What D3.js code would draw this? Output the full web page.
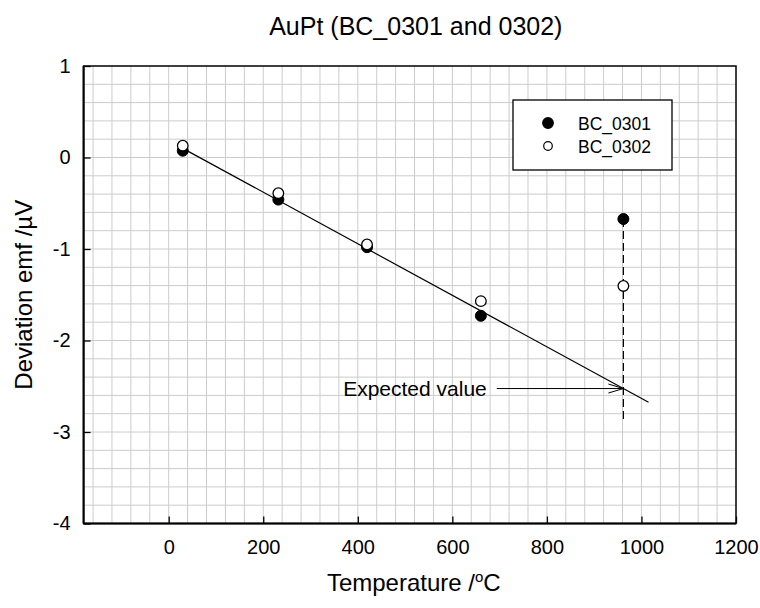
<!DOCTYPE html>
<html>
<head>
<meta charset="utf-8">
<script src="https://cdn.jsdelivr.net/npm/d3@7"></script>
<style>
  body { margin: 0; background: #fff; }
  text { font-family: "Liberation Sans", Arial, sans-serif; fill: #000; }
</style>
</head>
<body>
<div class="canvas"></div>
<script>
// data
const temps = [29.76, 231.93, 419.53, 660.32, 961.78];
const bc0301 = [0.074, -0.46, -0.98, -1.73, -0.672];
const bc0302 = [0.129, -0.39, -0.95, -1.57, -1.404];
const seriesNames = ['BC_0301', 'BC_0302'];

// fitted line end points
const fitX = [29.76, 1015];
const fitY = [0.10, -2.675];

// dashed drop line at the Ag point
const dropX = 961.78;
const dropY = [-0.672, -2.90];

// expected value annotation
const expectedLabel = 'Expected value';
const arrowFrom = [694, -2.525];
const arrowTo = [961.78, -2.525];

const xTicks = [0, 200, 400, 600, 800, 1000, 1200];
const yTicks = [1, 0, -1, -2, -3, -4];

const margin = { top: 66, right: 24, bottom: 84.5, left: 83.6 };
const width = 760, height = 608;
const graphWidth = width - margin.left - margin.right;
const graphHeight = height - margin.top - margin.bottom;

const svg = d3.select('.canvas').append('svg')
  .attr('width', width)
  .attr('height', height);

const graph = svg.append('g')
  .attr('transform', `translate(${margin.left},${margin.top})`);

const x = d3.scaleLinear().domain([-180, 1200]).range([0, graphWidth]);
const y = d3.scaleLinear().domain([-4, 1]).range([graphHeight, 0]);

// grid (every 40 deg, every 0.2 uV)
const gridX = d3.range(-160, 1200, 40);
const gridY = d3.range(-38, 10, 2).map(d => d / 10);

graph.append('g').selectAll('line')
  .data(gridX).enter().append('line')
    .attr('x1', d => x(d)).attr('x2', d => x(d))
    .attr('y1', 0).attr('y2', graphHeight)
    .attr('stroke', '#cccccc').attr('stroke-width', 1);
graph.append('g').selectAll('line')
  .data(gridY).enter().append('line')
    .attr('x1', 0).attr('x2', graphWidth)
    .attr('y1', d => y(d)).attr('y2', d => y(d))
    .attr('stroke', '#cccccc').attr('stroke-width', 1);

// axes - ticks point inward
const xAxis = d3.axisBottom(x).tickValues(xTicks).tickSize(-7).tickPadding(16).tickFormat(d => d);
const yAxis = d3.axisLeft(y).tickValues(yTicks).tickSize(-7).tickPadding(13).tickFormat(d => d);

const xAxisGroup = graph.append('g')
  .attr('transform', `translate(0,${graphHeight})`)
  .call(xAxis);
const yAxisGroup = graph.append('g').call(yAxis);

[xAxisGroup, yAxisGroup].forEach(g => {
  g.select('.domain').remove();
  g.selectAll('.tick line').attr('stroke', '#000').attr('stroke-width', 1.3);
  g.selectAll('.tick text').style('font-size', '20px')
    .style('font-family', '"Liberation Sans", Arial, sans-serif');
});
yAxisGroup.selectAll('.tick text').text(d => d < 0 ? '-' + Math.abs(d) : d);

// frame
graph.append('rect')
  .attr('width', graphWidth).attr('height', graphHeight)
  .attr('fill', 'none').attr('stroke', '#000').attr('stroke-width', 1.5);
graph.append('line').attr('x1', 0).attr('x2', 0).attr('y1', 0).attr('y2', graphHeight)
  .attr('stroke', '#000').attr('stroke-width', 2);
graph.append('line').attr('x1', 0).attr('x2', graphWidth).attr('y1', graphHeight).attr('y2', graphHeight)
  .attr('stroke', '#000').attr('stroke-width', 2);

// fit line
const line = d3.line().x(d => x(d[0])).y(d => y(d[1]));
graph.append('path')
  .datum(fitX.map((d, i) => [d, fitY[i]]))
  .attr('fill', 'none').attr('stroke', '#000').attr('stroke-width', 1.2)
  .attr('d', line);

// dashed drop line
graph.append('line')
  .attr('x1', x(dropX)).attr('x2', x(dropX))
  .attr('y1', y(dropY[0])).attr('y2', y(dropY[1]))
  .attr('stroke', '#000').attr('stroke-width', 1.2)
  .style('stroke-dasharray', '8,4');

// arrow + label
graph.append('line')
  .attr('x1', x(arrowFrom[0])).attr('x2', x(arrowTo[0]))
  .attr('y1', y(arrowFrom[1])).attr('y2', y(arrowTo[1]))
  .attr('stroke', '#000').attr('stroke-width', 1);
const tipX = x(arrowTo[0]), tipY = y(arrowTo[1]);
graph.append('path')
  .attr('d', `M${tipX - 15},${tipY - 4.5}L${tipX},${tipY}L${tipX - 15},${tipY + 4.5}`)
  .attr('fill', 'none').attr('stroke', '#000').attr('stroke-width', 1);
graph.append('text')
  .attr('x', x(arrowFrom[0]) - 10)
  .attr('y', tipY + 7)
  .attr('text-anchor', 'end')
  .style('font-size', '21px')
  .text(expectedLabel);

// points (filled first, open on top)
const pts1 = temps.map((t, i) => ({ t, v: bc0301[i] }));
const pts2 = temps.map((t, i) => ({ t, v: bc0302[i] }));
graph.append('g').selectAll('circle')
  .data(pts1).enter().append('circle')
    .attr('cx', d => x(d.t)).attr('cy', d => y(d.v)).attr('r', 5.5)
    .attr('fill', '#000').attr('stroke', '#000');
graph.append('g').selectAll('circle')
  .data(pts2).enter().append('circle')
    .attr('cx', d => x(d.t)).attr('cy', d => y(d.v)).attr('r', 5.3)
    .attr('fill', '#fff').attr('stroke', '#000').attr('stroke-width', 1.3);

// legend
const legend = svg.append('g').attr('transform', 'translate(513,100)');
legend.append('rect')
  .attr('width', 159).attr('height', 70)
  .attr('fill', '#fff').attr('stroke', '#000').attr('stroke-width', 1.3);
seriesNames.forEach((name, i) => {
  const row = legend.append('g').attr('transform', `translate(0,${23 + i * 23})`);
  row.append('circle').attr('cx', 35).attr('cy', 0).attr('r', i === 0 ? 5.3 : 4.3)
    .attr('fill', i === 0 ? '#000' : '#fff').attr('stroke', '#000').attr('stroke-width', 1.2);
  row.append('text').attr('x', 65).attr('y', 6.5).style('font-size', '17.5px').text(name);
});

// titles
svg.append('text')
  .attr('x', margin.left + graphWidth / 2 + 6).attr('y', 35)
  .attr('text-anchor', 'middle').style('font-size', '25px')
  .text('AuPt (BC_0301 and 0302)');

const xTitle = svg.append('text')
  .attr('x', margin.left + graphWidth / 2 + 4).attr('y', 591)
  .attr('text-anchor', 'middle').style('font-size', '24px');
xTitle.append('tspan').text('Temperature /');
xTitle.append('tspan').attr('dy', -9).style('font-size', '15px').text('o');
xTitle.append('tspan').attr('dy', 9).text('C');

svg.append('text')
  .attr('transform', `translate(32,${margin.top + graphHeight / 2}) rotate(-90)`)
  .attr('text-anchor', 'middle').style('font-size', '24px')
  .text('Deviation emf /µV');
</script>
</body>
</html>
